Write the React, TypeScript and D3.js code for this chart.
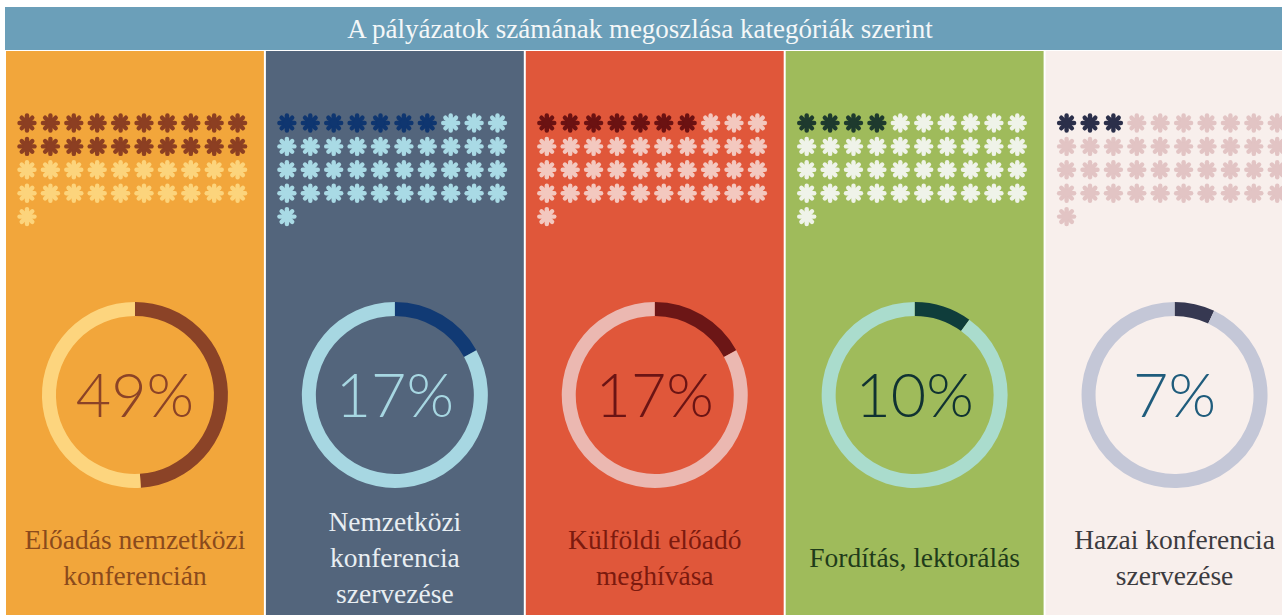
import React from 'react';
import * as d3 from 'd3';

const title = 'A pályázatok számának megoszlása kategóriák szerint';
const categories = [
  ['Előadás nemzetközi', 'konferencián'],
  ['Nemzetközi', 'konferencia', 'szervezése'],
  ['Külföldi előadó', 'meghívása'],
  ['Fordítás, lektorálás'],
  ['Hazai konferencia', 'szervezése'],
];
const shares = [49, 17, 17, 10, 7];
const highlightedIcons = [20, 7, 7, 4, 3];
const totalIcons = 41;
const iconsPerRow = 10;

// colours per column: background, highlight, rest, donut track, percent text, label
const palette = [
  { bg: '#f2a63b', hi: '#8c3f22', lo: '#fcd47c', track: '#fdd57e', ring: '#8b4327', pct: '#8b4327', label: '#8a4a1c' },
  { bg: '#53657c', hi: '#0f3670', lo: '#a9dae5', track: '#a7d7e2', ring: '#113a74', pct: '#a7d7e2', label: '#e8eef2' },
  { bg: '#e0573a', hi: '#6b1212', lo: '#f3c8bf', track: '#ebb8b1', ring: '#6c1616', pct: '#6b1414', label: '#7c1a0e' },
  { bg: '#9fbb5b', hi: '#1e3a2e', lo: '#eff3e9', track: '#aadccd', ring: '#0f3d3b', pct: '#103232', label: '#1f3b1a' },
  { bg: '#f8efec', hi: '#2b2f4a', lo: '#e2c4c4', track: '#c4c7d7', ring: '#363851', pct: '#1f5c7c', label: '#3c3b40' },
];

const Width = 1282;
const Height = 615;

const Icon = ({ x, y, fill }: { x: number; y: number; fill: string }) => (
  <g transform={`translate(${x}, ${y})`} stroke={fill} strokeWidth={4.4} strokeLinecap="round">
    {[0, 45, 90, 135].map((a) => (
      <line key={a} x1={-7.5} y1={0} x2={7.5} y2={0} transform={`rotate(${a})`} />
    ))}
    <circle r={3.8} fill={fill} stroke="none" />
  </g>
);

const App = () => {
  const top = 51;
  const colScale = d3
    .scaleBand<number>()
    .domain(d3.range(categories.length))
    .range([6, 6 + 259.5 * 5])
    .paddingInner(2 / 259.5);

  const iconX = d3.scaleLinear().domain([0, iconsPerRow - 1]).range([21, 21 + 9 * 23.4]);
  const iconY = d3.scaleLinear().domain([0, 4]).range([123, 123 + 4 * 23.4]);

  const outer = 93;
  const arc = d3.arc<d3.PieArcDatum<number>>().innerRadius(outer - 14).outerRadius(outer);
  const pie = d3.pie<number>().sort(null).value((d) => d);

  return (
    <svg width={Width} height={Height} style={{ position: 'absolute', left: 0, top: 0, background: '#ffffff' }}>
      <rect x={5} y={7} width={Width - 5} height={43} fill="#6b9fb9" />
      <text
        x={640}
        y={38}
        textAnchor="middle"
        fill="#f4f7f8"
        style={{ fontFamily: '"Liberation Serif", serif', fontSize: '27px' }}
      >
        {title}
      </text>

      {categories.map((lines, i) => {
        const left = colScale(i) as number;
        const cx = left + colScale.bandwidth() / 2;
        const p = palette[i];
        const slices = pie([shares[i], 100 - shares[i]]);
        const lineGap = 36;
        const firstY = 567 - ((lines.length - 1) * lineGap) / 2;
        return (
          <g key={i}>
            <rect x={left} y={top} width={colScale.bandwidth()} height={Height - top} fill={p.bg} />
            {d3.range(totalIcons).map((k) => (
              <Icon
                key={k}
                x={left + iconX(k % iconsPerRow)}
                y={iconY(Math.floor(k / iconsPerRow))}
                fill={k < highlightedIcons[i] ? p.hi : p.lo}
              />
            ))}
            <g transform={`translate(${cx}, 395)`}>
              {slices.map((s, j) => (
                <path key={j} d={arc(s) as string} fill={j === 0 ? p.ring : p.track} />
              ))}
              <text
                y={22}
                textAnchor="middle"
                fill={p.pct}
                style={{ fontFamily: 'Lato, "Open Sans", sans-serif', fontSize: '61px', fontWeight: 300 }}
              >
                {shares[i]}%
              </text>
            </g>
            {lines.map((ln, j) => (
              <text
                key={j}
                x={cx}
                y={firstY + j * lineGap}
                textAnchor="middle"
                fill={p.label}
                style={{ fontFamily: '"Liberation Serif", serif', fontSize: '27.5px' }}
              >
                {ln}
              </text>
            ))}
          </g>
        );
      })}
    </svg>
  );
};

export default App;
